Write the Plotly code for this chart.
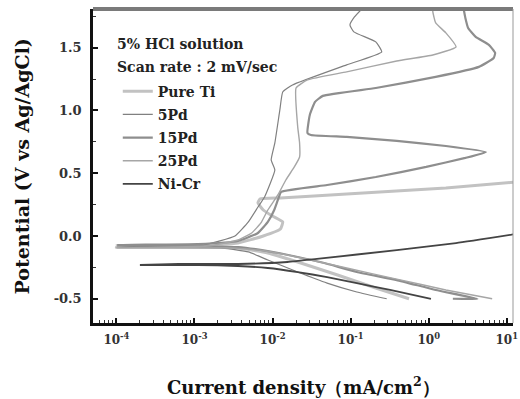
import plotly.graph_objects as go

# ---------------- data (current in mA/cm2, potential in V vs Ag/AgCl) ----------------
ti_i = [0.56, 0.21, 0.068, 0.021, 0.0087, 0.0036, 0.0015, 0.0001, 0.0011, 0.0036, 0.0076,
        0.0126, 0.0135, 0.010, 0.0076, 0.0065, 0.0069, 0.0126, 0.089, 1.66, 12.9]
ti_e = [-0.50, -0.414, -0.311, -0.207, -0.135, -0.096, -0.088, -0.088, -0.080, -0.056, 0.0,
        0.056, 0.112, 0.159, 0.207, 0.263, 0.295, 0.303, 0.335, 0.382, 0.430]

pd5_i = [0.29, 0.12, 0.050, 0.021, 0.0087, 0.0049, 0.0023, 0.0001, 0.0013, 0.0033, 0.0049,
         0.0065, 0.0079, 0.0107, 0.0096, 0.0107, 0.0124, 0.0135, 0.018, 0.089, 0.25,
         0.21, 0.11, 0.098, 0.112, 0.14]
pd5_e = [-0.50, -0.446, -0.375, -0.287, -0.191, -0.127, -0.096, -0.088, -0.072, 0.0, 0.112,
         0.231, 0.311, 0.526, 0.606, 0.741, 1.004, 1.147, 1.203, 1.363, 1.466,
         1.546, 1.626, 1.681, 1.745, 1.81]

pd15_i = [2.04, 4.2, 1.23, 0.39, 0.12, 0.046, 0.021, 0.0087, 0.0036, 0.0001, 0.0011, 0.0036,
          0.0065, 0.0087, 0.0105, 0.0117, 0.0129, 0.050, 0.21, 0.93, 2.95, 5.4, 1.66, 0.39,
          0.089, 0.031, 0.028, 0.030, 0.035, 0.044, 0.21, 1.23, 4.4, 6.8, 7.1, 5.9, 4.0,
          3.2, 2.95, 2.8]
pd15_e = [-0.50, -0.50, -0.430, -0.351, -0.287, -0.215, -0.167, -0.120, -0.088, -0.072,
          -0.064, -0.040, 0.024, 0.112, 0.207, 0.287, 0.351, 0.406, 0.470, 0.550, 0.622,
          0.669, 0.717, 0.757, 0.789, 0.805, 0.821, 0.964, 1.068, 1.116, 1.179, 1.267,
          1.347, 1.418, 1.458, 1.522, 1.586, 1.657, 1.737, 1.81]

pd25_i = [6.5, 1.66, 0.39, 0.089, 0.035, 0.0155, 0.0065, 0.0027, 0.0001, 0.0015, 0.0036,
          0.0054, 0.0071, 0.0087, 0.0117, 0.0148, 0.019, 0.0222, 0.0222, 0.021, 0.020,
          0.028, 0.089, 0.39, 1.13, 2.24, 1.66, 1.23, 1.13, 1.13]
pd25_e = [-0.50, -0.430, -0.343, -0.255, -0.199, -0.151, -0.112, -0.096, -0.096, -0.080,
          -0.032, 0.024, 0.104, 0.207, 0.327, 0.446, 0.550, 0.629, 0.741, 0.869, 1.179,
          1.243, 1.307, 1.394, 1.442, 1.506, 1.618, 1.697, 1.785, 1.81]

nicr_i = [1.07, 0.32, 0.12, 0.050, 0.021, 0.0087, 0.0036, 0.0011, 0.0002, 0.00063, 0.0036,
          0.0155, 0.037, 0.39, 2.24, 12.9]
nicr_e = [-0.50, -0.430, -0.375, -0.327, -0.287, -0.255, -0.239, -0.231, -0.231, -0.223,
          -0.223, -0.207, -0.183, -0.112, -0.056, 0.016]

series_names = ["Pure Ti", "5Pd", "15Pd", "25Pd", "Ni-Cr"]
series_x = [ti_i, pd5_i, pd15_i, pd25_i, nicr_i]
series_y = [ti_e, pd5_e, pd15_e, pd25_e, nicr_e]
series_colors = ["#c2c2c2", "#808080", "#8e8e8e", "#a6a6a6", "#444444"]
series_widths = [3.0, 1.2, 2.2, 1.4, 1.8]

x_tickvals = [1e-4, 1e-3, 1e-2, 1e-1, 1, 10]
x_ticktext = ["10<sup>-4</sup>", "10<sup>-3</sup>", "10<sup>-2</sup>",
              "10<sup>-1</sup>", "10<sup>0</sup>", "10<sup>1</sup>"]
y_tickvals = [-0.5, 0.0, 0.5, 1.0, 1.5]
y_ticktext = ["-0.5", "0.0", "0.5", "1.0", "1.5"]

FONT = "DejaVu Serif"

fig = go.Figure()
for name, xs, ys, c, w in zip(series_names, series_x, series_y, series_colors, series_widths):
    fig.add_trace(go.Scatter(x=xs, y=ys, mode="lines", name=name, legendgroup=name,
                             line=dict(color=c, width=w, shape="spline", smoothing=0.4)))

fig.update_layout(
    width=520, height=399,
    margin=dict(l=93, r=2, t=9, b=76),
    paper_bgcolor="white", plot_bgcolor="white",
    font=dict(family=FONT, size=13, color="#222"),
    showlegend=True,
    legend=dict(x=0.059, y=0.788, xanchor="left", yanchor="top",
                bgcolor="rgba(0,0,0,0)", tracegroupgap=2,
                font=dict(family=FONT, size=14, color="#222", weight="bold")),
    xaxis=dict(type="log", range=[-4.30, 1.08], tickvals=x_tickvals, ticktext=x_ticktext,
               showgrid=False, zeroline=False, showline=True, linecolor="#111", linewidth=2.5,
               ticks="inside", ticklen=5, tickwidth=1.5, tickcolor="#111",
               minor=dict(ticks="inside", ticklen=3, tickwidth=1, tickcolor="#333", dtick="D1"),
               tickfont=dict(family=FONT, size=12, color="#333", weight="bold"),
               ticklabelstandoff=4, ticklabeloverflow="allow"),
    yaxis=dict(range=[-0.693, 1.808], tickvals=y_tickvals, ticktext=y_ticktext,
               showgrid=False, zeroline=False, showline=True, linecolor="#111", linewidth=2.5,
               ticks="inside", ticklen=5, tickwidth=1.5, tickcolor="#111",
               minor=dict(ticks="inside", ticklen=3, tickwidth=1, tickcolor="#333",
                          tickvals=[-0.25, 0.25, 0.75, 1.25, 1.75]),
               tickfont=dict(family=FONT, size=13, color="#333", weight="bold"),
               ticklabelstandoff=6),
)

# frame top / right
fig.add_shape(type="line", xref="paper", yref="paper", x0=0, x1=1, y0=1, y1=1,
              line=dict(color="#7a7a7a", width=4))
fig.add_shape(type="line", xref="paper", yref="paper", x0=1, x1=1, y0=0, y1=1,
              line=dict(color="#999", width=1))

fig.add_annotation(text="5% HCl solution", xref="paper", yref="paper", x=0.052, y=0.889,
                   xanchor="left", yanchor="middle", showarrow=False,
                   font=dict(family=FONT, size=14, color="#222", weight="bold"))
fig.add_annotation(text="Scan rate : 2 mV/sec", xref="paper", yref="paper", x=0.052, y=0.815,
                   xanchor="left", yanchor="middle", showarrow=False,
                   font=dict(family=FONT, size=14, color="#222", weight="bold"))

# axis titles
fig.add_annotation(text="Current density（mA/cm<sup>2</sup>）", xref="paper", yref="paper",
                   x=0.5, y=-0.2, xanchor="center", yanchor="middle", showarrow=False,
                   font=dict(family=FONT, size=18, color="#111", weight="bold"))
fig.add_annotation(text="Potential (V vs Ag/AgCl)", xref="paper", yref="paper",
                   x=-0.168, y=0.5, xanchor="center", yanchor="middle", showarrow=False,
                   textangle=-90,
                   font=dict(family=FONT, size=19, color="#111", weight="bold"))

fig.write_html("out.html")
